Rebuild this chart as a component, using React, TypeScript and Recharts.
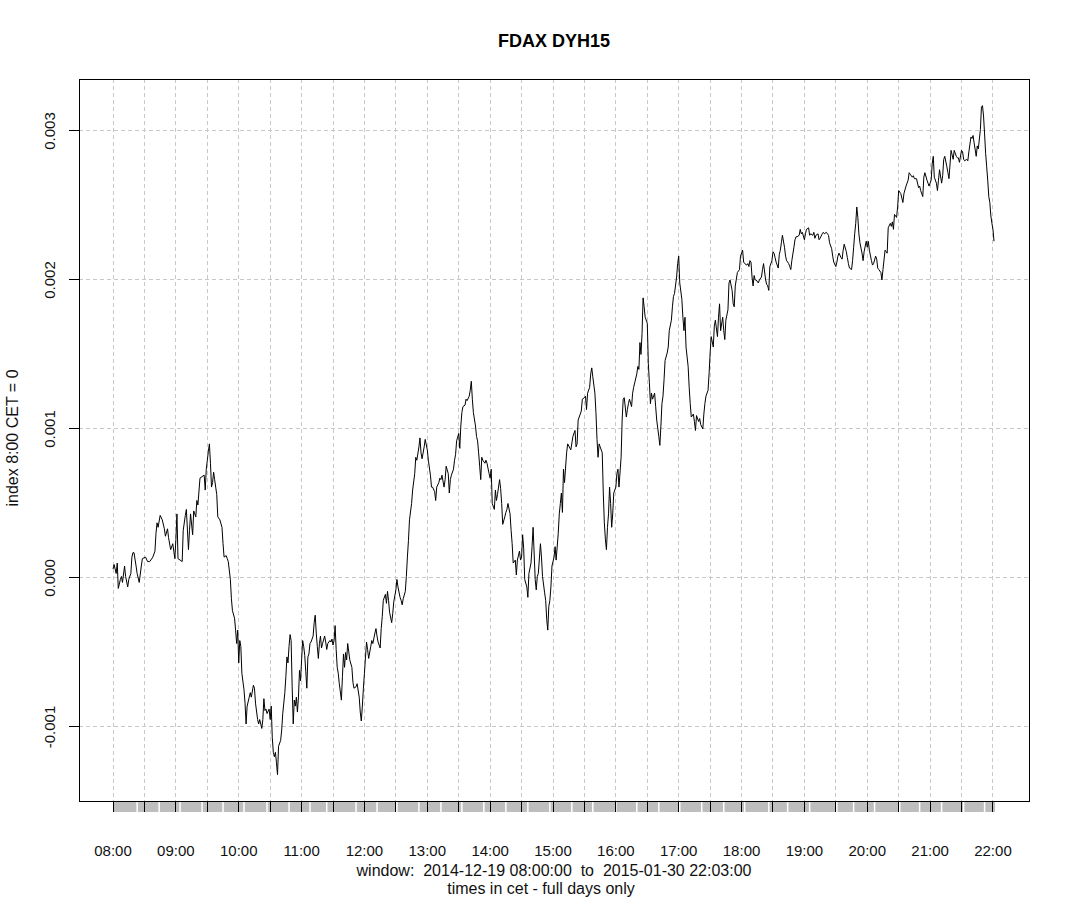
import { CartesianGrid, Line, LineChart, ReferenceArea, ReferenceLine, XAxis, YAxis } from "recharts";

const TITLE = "FDAX DYH15";
const Y_TITLE = "index 8:00 CET = 0";
const WINDOW_TEXT = "window:  2014-12-19 08:00:00  to  2015-01-30 22:03:00";
const SUB_TEXT = "times in cet - full days only";

const hourLabels = [
  "08:00", "09:00", "10:00", "11:00", "12:00", "13:00", "14:00", "15:00",
  "16:00", "17:00", "18:00", "19:00", "20:00", "21:00", "22:00",
];
const yTicks = [-0.001, 0, 0.001, 0.002, 0.003];

// [minutes after 08:00 CET, index value in units of 1e-3]
const series: [number, number][] = [
  [0, 0.06], [1, 0.09], [3, 0.03], [4, 0.1], [5, -0.07], [7, -0.01], [8, 0.01], [9, -0.03], [11, 0.08], [12, 0.01],
  [14, -0.06], [15, -0.01], [17, 0.03], [18, 0.14], [19, 0.17], [20, 0.17], [22, 0.08], [23, 0.03], [25, -0.03], [27, 0.08],
  [28, 0.13], [31, 0.14], [33, 0.11], [35, 0.11], [38, 0.14], [40, 0.18], [41, 0.3], [42, 0.37], [43, 0.34], [45, 0.42],
  [47, 0.39], [49, 0.33], [50, 0.28], [52, 0.33], [53, 0.27], [55, 0.19], [57, 0.23], [58, 0.18], [59, 0.13], [60, 0.26],
  [61, 0.43], [62, 0.13], [64, 0.12], [66, 0.11], [67, 0.32], [69, 0.42], [70, 0.46], [72, 0.19], [73, 0.32], [74, 0.43],
  [76, 0.29], [77, 0.45], [79, 0.41], [80, 0.52], [81, 0.49], [83, 0.67], [85, 0.68], [87, 0.69], [88, 0.59], [89, 0.73],
  [90, 0.79], [91, 0.85], [92, 0.9], [93, 0.77], [94, 0.61], [95, 0.64], [96, 0.71], [97, 0.66], [99, 0.56], [100, 0.41],
  [102, 0.39], [104, 0.34], [105, 0.23], [106, 0.14], [108, 0.15], [109, 0.13], [110, 0.11], [112, -0.01], [113, -0.14], [114, -0.22],
  [116, -0.27], [117, -0.35], [118, -0.44], [119, -0.35], [120, -0.57], [121, -0.42], [122, -0.46], [123, -0.64], [125, -0.75], [126, -0.84],
  [127, -0.98], [128, -0.86], [130, -0.8], [131, -0.77], [132, -0.8], [134, -0.72], [135, -0.74], [136, -0.84], [138, -0.95], [139, -0.98],
  [140, -0.95], [142, -1.01], [143, -0.95], [144, -0.81], [145, -0.89], [146, -0.88], [147, -0.91], [149, -0.88], [150, -0.95], [151, -0.86],
  [152, -1.07], [153, -1.17], [154, -1.2], [155, -1.17], [156, -1.24], [157, -1.32], [158, -1.13], [160, -1.09], [161, -1.02], [162, -0.91],
  [164, -0.77], [165, -0.66], [166, -0.53], [167, -0.57], [168, -0.46], [169, -0.38], [170, -0.42], [171, -0.73], [172, -0.98], [173, -0.82],
  [174, -0.86], [175, -0.8], [176, -0.9], [177, -0.8], [178, -0.62], [179, -0.69], [180, -0.55], [181, -0.42], [182, -0.46], [183, -0.52],
  [184, -0.63], [185, -0.74], [186, -0.53], [187, -0.51], [188, -0.44], [189, -0.43], [191, -0.39], [192, -0.3], [193, -0.25], [194, -0.37],
  [195, -0.46], [196, -0.54], [197, -0.44], [198, -0.39], [199, -0.47], [200, -0.44], [202, -0.39], [203, -0.43], [204, -0.48], [205, -0.44],
  [207, -0.42], [208, -0.43], [209, -0.41], [210, -0.45], [211, -0.42], [212, -0.32], [213, -0.48], [214, -0.6], [215, -0.64], [216, -0.71],
  [218, -0.82], [219, -0.66], [220, -0.51], [221, -0.6], [222, -0.5], [223, -0.55], [224, -0.44], [226, -0.55], [228, -0.6], [229, -0.7],
  [230, -0.74], [232, -0.73], [233, -0.71], [235, -0.8], [236, -0.9], [237, -0.96], [238, -0.86], [239, -0.74], [240, -0.64], [241, -0.53],
  [242, -0.43], [243, -0.48], [244, -0.54], [246, -0.46], [247, -0.42], [248, -0.44], [250, -0.37], [251, -0.34], [252, -0.39], [253, -0.43],
  [255, -0.47], [256, -0.34], [257, -0.26], [258, -0.15], [260, -0.11], [261, -0.17], [262, -0.09], [263, -0.15], [264, -0.23], [266, -0.3],
  [267, -0.24], [268, -0.16], [270, -0.08], [271, -0.01], [272, -0.06], [274, -0.13], [275, -0.15], [276, -0.18], [277, -0.14], [279, -0.09],
  [280, 0.01], [281, 0.14], [282, 0.25], [283, 0.39], [285, 0.5], [286, 0.59], [288, 0.7], [289, 0.81], [290, 0.79], [292, 0.88],
  [293, 0.94], [294, 0.84], [295, 0.8], [297, 0.88], [298, 0.93], [300, 0.86], [301, 0.79], [303, 0.69], [304, 0.61], [305, 0.61],
  [307, 0.58], [308, 0.52], [309, 0.61], [311, 0.64], [312, 0.67], [313, 0.66], [314, 0.69], [316, 0.61], [317, 0.66], [318, 0.75],
  [320, 0.7], [321, 0.57], [322, 0.66], [323, 0.69], [325, 0.73], [326, 0.79], [327, 0.83], [328, 0.92], [330, 0.97], [331, 0.87],
  [332, 1.02], [333, 1.11], [334, 1.15], [336, 1.16], [337, 1.2], [338, 1.19], [340, 1.22], [341, 1.26], [342, 1.32], [343, 1.2],
  [344, 1.11], [346, 1.02], [347, 0.95], [348, 0.92], [349, 0.84], [350, 0.75], [351, 0.66], [352, 0.81], [353, 0.79], [355, 0.77],
  [356, 0.79], [357, 0.77], [359, 0.7], [360, 0.67], [361, 0.73], [362, 0.5], [364, 0.46], [365, 0.59], [366, 0.52], [367, 0.56],
  [369, 0.66], [370, 0.6], [371, 0.5], [372, 0.36], [374, 0.41], [375, 0.44], [376, 0.46], [377, 0.5], [379, 0.43], [380, 0.32],
  [381, 0.23], [382, 0.1], [384, 0.12], [385, 0.02], [386, 0.12], [388, 0.18], [389, 0.12], [390, 0.14], [391, 0.29], [392, 0.2],
  [393, -0.01], [395, -0.06], [396, -0.13], [397, 0.03], [399, 0.1], [400, 0.21], [401, 0.34], [403, -0.01], [404, -0.08], [405, 0.01],
  [406, 0.03], [408, 0.23], [409, 0.14], [410, 0.01], [412, -0.1], [413, -0.15], [414, -0.28], [415, -0.35], [416, -0.19], [417, -0.15],
  [418, -0.06], [419, 0.08], [421, 0.14], [422, 0.21], [423, 0.12], [425, 0.3], [426, 0.43], [427, 0.5], [428, 0.57], [429, 0.44],
  [430, 0.73], [431, 0.64], [433, 0.84], [434, 0.9], [437, 0.86], [439, 0.95], [441, 0.99], [442, 0.88], [443, 0.9], [444, 1.06],
  [446, 1.1], [447, 1.12], [448, 1.2], [450, 1.21], [451, 1.22], [452, 1.13], [453, 1.24], [455, 1.28], [456, 1.37], [457, 1.41],
  [458, 1.35], [460, 1.24], [461, 1.11], [462, 0.93], [463, 0.81], [464, 0.9], [465, 0.88], [467, 0.84], [468, 0.57], [469, 0.37],
  [470, 0.26], [471, 0.19], [472, 0.34], [473, 0.43], [474, 0.61], [475, 0.5], [476, 0.34], [477, 0.43], [478, 0.57], [480, 0.61],
  [481, 0.7], [482, 0.73], [483, 0.61], [485, 0.81], [486, 1.06], [487, 1.2], [488, 1.21], [490, 1.08], [491, 1.13], [492, 1.17],
  [493, 1.2], [495, 1.15], [496, 1.24], [497, 1.28], [498, 1.31], [500, 1.37], [501, 1.42], [502, 1.4], [503, 1.58], [504, 1.5],
  [505, 1.64], [506, 1.88], [507, 1.82], [508, 1.75], [510, 1.71], [511, 1.44], [512, 1.31], [513, 1.17], [514, 1.24], [515, 1.2],
  [517, 1.24], [518, 1.15], [519, 1.06], [521, 0.95], [522, 0.89], [523, 1.02], [524, 1.17], [525, 1.22], [526, 1.33], [527, 1.46],
  [529, 1.51], [530, 1.55], [531, 1.66], [533, 1.73], [534, 1.82], [535, 1.89], [536, 1.91], [538, 2.02], [539, 2.11], [540, 2.16],
  [541, 1.98], [543, 1.87], [544, 1.75], [545, 1.66], [546, 1.75], [547, 1.55], [549, 1.42], [550, 1.28], [551, 1.17], [552, 1.08],
  [554, 1.1], [555, 1.05], [556, 0.99], [557, 1.09], [559, 1.05], [560, 1.07], [561, 1.03], [563, 1.0], [564, 1.1], [565, 1.17],
  [566, 1.22], [568, 1.26], [569, 1.37], [570, 1.51], [571, 1.62], [573, 1.55], [574, 1.69], [575, 1.73], [577, 1.62], [578, 1.75],
  [579, 1.84], [580, 1.66], [582, 1.75], [583, 1.66], [584, 1.6], [585, 1.73], [587, 1.8], [588, 1.98], [589, 2.0], [591, 1.93],
  [592, 1.84], [593, 1.82], [594, 1.96], [596, 2.05], [597, 2.06], [598, 2.07], [599, 2.16], [601, 2.2], [602, 2.12], [603, 2.11],
  [605, 2.1], [606, 2.11], [607, 2.09], [608, 2.13], [609, 2.12], [610, 2.02], [611, 1.96], [612, 2.03], [613, 2.0], [614, 2.0],
  [616, 1.98], [617, 2.0], [619, 2.02], [620, 2.07], [621, 2.11], [623, 2.0], [624, 1.97], [625, 1.96], [626, 1.93], [627, 2.09],
  [629, 2.13], [630, 2.19], [631, 2.18], [632, 2.15], [633, 2.12], [635, 2.08], [636, 2.17], [637, 2.2], [638, 2.25], [639, 2.3],
  [641, 2.22], [642, 2.16], [643, 2.13], [645, 2.11], [646, 2.09], [647, 2.07], [648, 2.13], [650, 2.22], [651, 2.27], [652, 2.29],
  [653, 2.29], [655, 2.3], [656, 2.34], [657, 2.31], [658, 2.32], [660, 2.27], [661, 2.31], [662, 2.34], [664, 2.35], [665, 2.3],
  [666, 2.31], [668, 2.3], [669, 2.32], [670, 2.28], [671, 2.3], [673, 2.31], [674, 2.27], [675, 2.28], [677, 2.31], [678, 2.32],
  [679, 2.31], [681, 2.32], [682, 2.31], [683, 2.3], [684, 2.25], [686, 2.21], [687, 2.16], [688, 2.12], [690, 2.09], [691, 2.12],
  [692, 2.16], [693, 2.18], [695, 2.15], [696, 2.14], [697, 2.2], [698, 2.24], [700, 2.19], [701, 2.15], [702, 2.11], [703, 2.08],
  [705, 2.07], [706, 2.13], [707, 2.22], [708, 2.31], [709, 2.38], [710, 2.49], [711, 2.42], [712, 2.31], [713, 2.25], [715, 2.18],
  [716, 2.13], [717, 2.19], [719, 2.26], [720, 2.22], [721, 2.26], [722, 2.2], [724, 2.13], [725, 2.1], [726, 2.11], [728, 2.16],
  [729, 2.14], [730, 2.08], [731, 2.07], [733, 2.05], [734, 2.0], [735, 2.07], [737, 2.2], [738, 2.19], [739, 2.18], [740, 2.35],
  [742, 2.38], [743, 2.36], [744, 2.39], [745, 2.34], [746, 2.44], [748, 2.42], [749, 2.49], [750, 2.6], [752, 2.58], [754, 2.52],
  [755, 2.58], [757, 2.63], [759, 2.67], [760, 2.72], [761, 2.71], [763, 2.69], [764, 2.7], [765, 2.68], [767, 2.68], [769, 2.62],
  [770, 2.63], [771, 2.6], [773, 2.56], [774, 2.69], [775, 2.72], [777, 2.67], [778, 2.65], [779, 2.63], [781, 2.67], [782, 2.78],
  [783, 2.83], [784, 2.69], [786, 2.65], [787, 2.6], [788, 2.67], [789, 2.74], [791, 2.65], [792, 2.7], [793, 2.81], [794, 2.83],
  [796, 2.76], [797, 2.72], [798, 2.68], [800, 2.87], [801, 2.84], [802, 2.81], [803, 2.87], [805, 2.83], [806, 2.82], [807, 2.82],
  [808, 2.79], [810, 2.87], [811, 2.86], [812, 2.81], [813, 2.8], [815, 2.81], [816, 2.8], [817, 2.86], [819, 2.96], [820, 2.95],
  [821, 2.97], [822, 2.92], [824, 2.83], [825, 2.9], [826, 2.88], [828, 3.01], [829, 3.16], [830, 3.17], [831, 3.1], [832, 2.98],
  [833, 2.85], [834, 2.76], [835, 2.67], [836, 2.56], [837, 2.52], [838, 2.43], [839, 2.38], [840, 2.34], [841, 2.26],
];

// minutes where the session bar under the axis shows a white break
const bandGaps = [
  23, 44, 64, 85, 105, 125, 147, 168, 188, 204, 232, 252, 271, 292, 313, 333, 354, 375, 396, 417,
  438, 458, 480, 500, 521, 541, 562, 583, 603, 626, 644, 665, 691, 707, 727, 751, 770, 791, 812, 832,
];
const bandEnd = 842;

const X_DOMAIN: [number, number] = [-32.5, 874.4];
const Y_DOMAIN: [number, number] = [-0.001497, 0.003349];
const BAND_TOP = -0.001504;
const BAND_BOTTOM = -0.001571;

const FONT = "'Liberation Sans', Arial, sans-serif";
const halfHours = Array.from({ length: 29 }, (_, i) => i * 30);

const data = series.map(([m, v]) => ({ m, v: v / 1000 }));

const XTick = ({ x, y, payload }: any) => {
  const v = payload.value as number;
  if (v % 60 !== 0) return <g />;
  return (
    <text x={x} y={y + 42} textAnchor="middle" fontSize={15} fontFamily={FONT} fill="#111">
      {hourLabels[v / 60]}
    </text>
  );
};

const YTick = ({ x, y, payload }: any) => {
  const tx = x - 14;
  return (
    <text x={tx} y={y} transform={`rotate(-90, ${tx}, ${y})`} textAnchor="middle" fontSize={15} fontFamily={FONT} fill="#111">
      {(payload.value as number).toFixed(3)}
    </text>
  );
};

export default function App() {
  return (
    <div style={{ position: "absolute", left: 0, top: 0, width: 1070, height: 900, background: "#fff" }}>
      <LineChart width={1070} height={900} data={data} margin={{ top: 79, right: 41, bottom: 0, left: 0 }}>
        <CartesianGrid stroke="#c8c8c8" strokeDasharray="4 3" shapeRendering="crispEdges" />
        <XAxis
          dataKey="m"
          type="number"
          domain={X_DOMAIN}
          allowDataOverflow
          ticks={halfHours}
          interval={0}
          height={99}
          tick={<XTick />}
          tickSize={11}
          tickMargin={2}
          axisLine={false}
          tickLine={{ stroke: "#000", shapeRendering: "crispEdges" }}
        />
        <YAxis
          type="number"
          domain={Y_DOMAIN}
          allowDataOverflow
          ticks={yTicks}
          interval={0}
          width={79}
          tick={<YTick />}
          tickSize={10}
          tickMargin={0}
          axisLine={false}
          tickLine={{ stroke: "#000", shapeRendering: "crispEdges" }}
        />
        <ReferenceArea
          x1={0}
          x2={bandEnd}
          y1={BAND_BOTTOM}
          y2={BAND_TOP}
          ifOverflow="visible"
          fill="#bebebe"
          fillOpacity={1}
          stroke="none"
        />
        {bandGaps.map((g) => (
          <ReferenceLine
            key={g}
            segment={[{ x: g, y: BAND_BOTTOM }, { x: g, y: BAND_TOP }]}
            ifOverflow="visible"
            stroke="#fff"
            strokeWidth={1.5}
          />
        ))}
        <Line
          type="linear"
          dataKey="v"
          stroke="#000"
          strokeWidth={1}
          dot={false}
          activeDot={false}
          isAnimationActive={false}
        />
        <ReferenceArea
          x1={X_DOMAIN[0]}
          x2={X_DOMAIN[1]}
          y1={Y_DOMAIN[0]}
          y2={Y_DOMAIN[1]}
          ifOverflow="visible"
          fill="none"
          stroke="#000"
          strokeWidth={1}
          shapeRendering="crispEdges"
        />
      </LineChart>
      <svg width={1070} height={900} style={{ position: "absolute", left: 0, top: 0, pointerEvents: "none" }}>
        <text x={554} y={47} textAnchor="middle" fontSize={18} fontWeight="bold" fontFamily={FONT} fill="#000">
          {TITLE}
        </text>
        <text x={18} y={438} transform="rotate(-90, 18, 438)" textAnchor="middle" fontSize={16} fontFamily={FONT} fill="#111">
          {Y_TITLE}
        </text>
        <text x={554} y={876} textAnchor="middle" fontSize={16} fontFamily={FONT} fill="#111" xmlSpace="preserve">
          {WINDOW_TEXT}
        </text>
        <text x={541} y={894} textAnchor="middle" fontSize={16} fontFamily={FONT} fill="#111">
          {SUB_TEXT}
        </text>
      </svg>
    </div>
  );
}
